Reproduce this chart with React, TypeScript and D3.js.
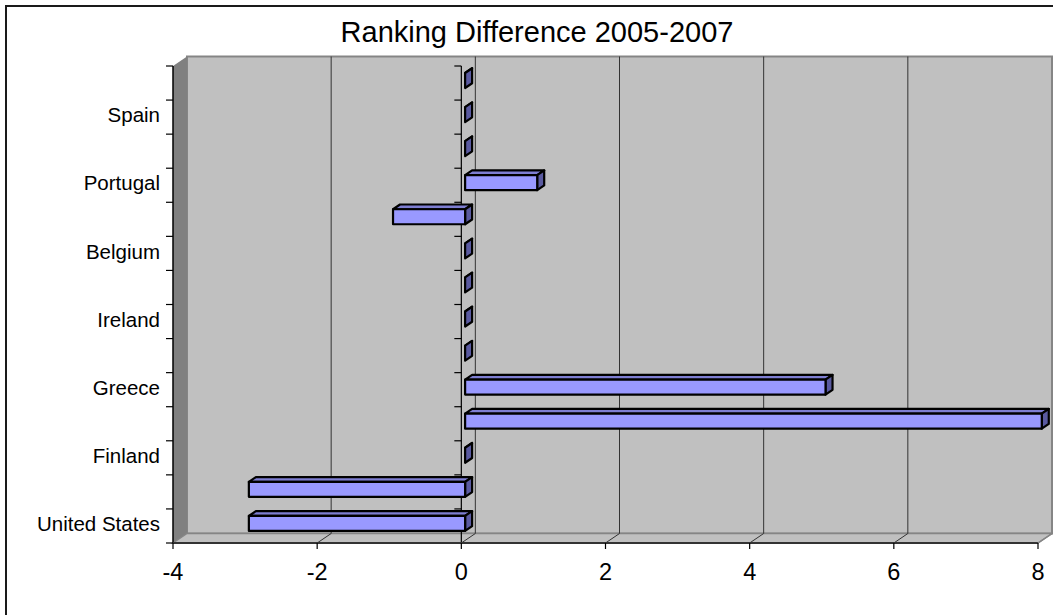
import React from "react";
import * as d3 from "d3";

// Data (bottom to top, as drawn)
const categories: string[] = [
  "United States", "", "Finland", "", "Greece", "", "Ireland", "",
  "Belgium", "", "Portugal", "", "Spain", "",
];
const values: number[] = [-3, -3, 0, 8, 5, 0, 0, 0, 0, -1, 1, 0, 0, 0];
const xTicks: number[] = [-4, -2, 0, 2, 4, 6, 8];
const title = "Ranking Difference 2005-2007";

const W = 1053;
const H = 615;
const DX = 14;
const DY = -9.5;
const FONT = "Arial, 'Liberation Sans', sans-serif";

export default function App() {
  const x = d3.scaleLinear().domain([-4, 8]).range([173, 1038]);
  const idx = categories.map((_, i) => String(i));
  const y = d3.scaleBand<string>().domain(idx).range([543, 66]).padding(0);
  const bw = y.bandwidth();
  const left = x(-4);
  const right = x(8);
  const top = 66;
  const bottom = 543;

  const fr = 0.27;
  const bk = 0.77;
  const ddx = (bk - fr) * DX;
  const ddy = (bk - fr) * DY;
  const barH = bw * 0.44;

  const boundaries = d3.range(categories.length + 1).map((i) => bottom - i * bw);

  const pts = (a: [number, number][]) => a.map((p) => p.join(",")).join(" ");

  return (
    <svg
      width={W}
      height={H}
      style={{ position: "absolute", left: 0, top: 0, background: "#fff" }}
    >
      {/* outer chart border */}
      <rect x={6} y={6} width={1200} height={800} fill="#fff" stroke="#1a1a1a" strokeWidth={2} />

      {/* title */}
      <text x={537} y={42} textAnchor="middle" fontFamily={FONT} fontSize={29} fill="#000">
        {title}
      </text>

      {/* back wall */}
      <rect
        x={left + DX}
        y={top + DY}
        width={right - left}
        height={bottom - top}
        fill="#c0c0c0"
        stroke="#858585"
        strokeWidth={2}
      />
      {/* side wall */}
      <polygon
        points={pts([[left, top], [left + DX, top + DY], [left + DX, bottom + DY], [left, bottom]])}
        fill="#808080"
      />
      {/* floor */}
      <polygon
        points={pts([[left, bottom], [left + DX, bottom + DY], [right + DX, bottom + DY], [right, bottom]])}
        fill="#c0c0c0"
        stroke="#858585"
        strokeWidth={1.5}
      />

      {/* gridlines on back wall and floor */}
      {xTicks
        .filter((t) => t > -4 && t < 8)
        .map((t) => (
          <g key={"g" + t}>
            <line x1={x(t) + DX} x2={x(t) + DX} y1={top + DY} y2={bottom + DY} stroke="#333" strokeWidth={1} />
            <line x1={x(t)} x2={x(t) + DX} y1={bottom} y2={bottom + DY} stroke="#333" strokeWidth={1} />
          </g>
        ))}

      {/* left axis line and ticks */}
      <line x1={left} x2={left} y1={top} y2={bottom} stroke="#000" strokeWidth={1.5} />
      {boundaries.map((b, i) => (
        <line key={"lt" + i} x1={left - 7} x2={left} y1={b} y2={b} stroke="#000" strokeWidth={1.2} />
      ))}

      {/* zero axis line and ticks */}
      <line x1={x(0)} x2={x(0)} y1={top} y2={bottom} stroke="#000" strokeWidth={1.2} />
      {boundaries.map((b, i) => (
        <line key={"zt" + i} x1={x(0) - 7} x2={x(0)} y1={b} y2={b} stroke="#000" strokeWidth={1.2} />
      ))}

      {/* bottom axis */}
      <line x1={left} x2={right} y1={bottom} y2={bottom} stroke="#333" strokeWidth={2} />
      <line x1={right} x2={right + DX} y1={bottom} y2={bottom + DY} stroke="#858585" strokeWidth={1.5} />
      {xTicks.map((t) => (
        <g key={"xt" + t}>
          <line x1={x(t)} x2={x(t)} y1={bottom} y2={bottom + 6} stroke="#000" strokeWidth={1.2} />
          <text x={x(t)} y={580} textAnchor="middle" fontFamily={FONT} fontSize={23.5} fill="#000">
            {t}
          </text>
        </g>
      ))}

      {/* bars */}
      {values.map((v, i) => {
        const yc = (y(String(i)) as number) + bw / 2 + fr * DY;
        const y0 = yc - barH / 2;
        const y1 = yc + barH / 2;
        const x0 = x(Math.min(0, v)) + fr * DX;
        const x1 = x(Math.max(0, v)) + fr * DX;
        return (
          <g key={"b" + i} stroke="#000" strokeWidth={2.2} strokeLinejoin="round">
            <polygon
              points={pts([[x0, y0], [x1, y0], [x1 + ddx, y0 + ddy], [x0 + ddx, y0 + ddy]])}
              fill="#7e7ed2"
            />
            <polygon
              points={pts([[x1, y0], [x1 + ddx, y0 + ddy], [x1 + ddx, y1 + ddy], [x1, y1]])}
              fill="#5a5aa0"
            />
            {x1 - x0 > 0.5 && <rect x={x0} y={y0} width={x1 - x0} height={y1 - y0} fill="#9999ff" />}
          </g>
        );
      })}

      {/* category labels */}
      {categories.map((c, i) =>
        c ? (
          <text
            key={"c" + i}
            x={160}
            y={(y(String(i)) as number) + bw / 2 - 2}
            dy="0.35em"
            textAnchor="end"
            fontFamily={FONT}
            fontSize={20.5}
            fill="#000"
          >
            {c}
          </text>
        ) : null
      )}
    </svg>
  );
}
